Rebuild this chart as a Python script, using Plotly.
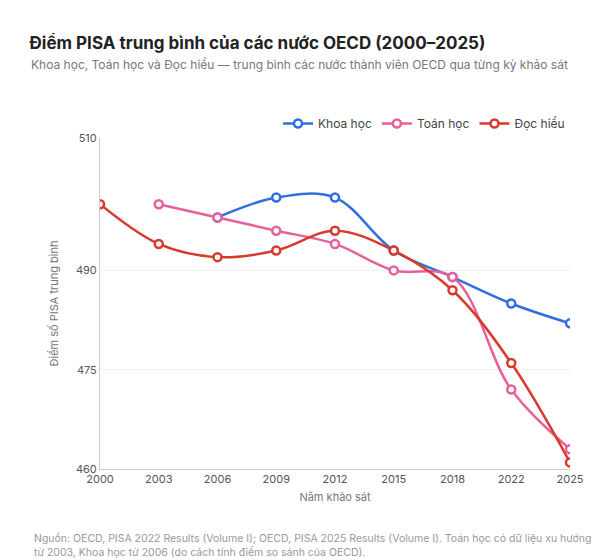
import plotly.graph_objects as go

years = ["2000", "2003", "2006", "2009", "2012", "2015", "2018", "2022", "2025"]
khoa_hoc = [None, None, 498, 501, 501, 493, 489, 485, 482]
toan_hoc = [None, 500, 498, 496, 494, 490, 489, 472, 463]
doc_hieu = [500, 494, 492, 493, 496, 493, 487, 476, 461]

series = [
    ("Khoa học", khoa_hoc, "#2f6fe0"),
    ("Toán học", toan_hoc, "#e8609a"),
    ("Đọc hiểu", doc_hieu, "#d83a2e"),
]

fig = go.Figure()
for name, vals, color in series:
    fig.add_trace(go.Scatter(
        x=years, y=vals, name=name, mode="lines+markers",
        line=dict(color=color, width=2.5, shape="spline", smoothing=1.0),
        marker=dict(size=8, color="white", line=dict(color=color, width=2.5)),
    ))

fig.update_layout(
    width=616, height=560,
    paper_bgcolor="white", plot_bgcolor="white",
    font=dict(family="Inter, Noto Sans, sans-serif", color="#555"),
    margin=dict(t=130, b=99, l=92, r=54, autoexpand=False),
    title=dict(
        text="<b>Điểm PISA trung bình của các nước OECD (2000–2025)</b>",
        x=0.035, xanchor="left", y=0.948, yanchor="top",
        font=dict(size=17, color="#222"),
    ),
    legend=dict(orientation="h", x=1, xanchor="right", y=1.0, yanchor="bottom",
                font=dict(size=12, color="#444"), itemwidth=30),
    xaxis=dict(title=dict(text="Năm khảo sát", font=dict(size=11, color="#777"), standoff=8),
               showgrid=False, showline=True, linecolor="#ccc", ticks="",
               tickfont=dict(size=11, color="#555"), range=[0, 8], automargin=False),
    yaxis=dict(title=dict(text="Điểm số PISA trung bình", font=dict(size=11, color="#777")),
               range=[460, 510], tickvals=[460, 475, 490, 510],
               showgrid=True, gridcolor="#eee", showline=True, linecolor="#ccc",
               zeroline=False, tickfont=dict(size=11, color="#555"), automargin=False),
)

fig.add_annotation(
    text="Khoa học, Toán học và Đọc hiểu — trung bình các nước thành viên OECD qua từng kỳ khảo sát",
    xref="paper", yref="paper", x=-0.151, y=1.223, xanchor="left", yanchor="middle",
    showarrow=False, font=dict(size=12, color="#777"),
)

fig.add_annotation(
    text="Nguồn: OECD, PISA 2022 Results (Volume I); OECD, PISA 2025 Results (Volume I). Toán học có dữ liệu xu hướng<br>từ 2003, Khoa học từ 2006 (do cách tính điểm so sánh của OECD).",
    xref="paper", yref="paper", x=-0.145, y=-0.185, xanchor="left", yanchor="top",
    showarrow=False, align="left", font=dict(size=10.5, color="#999"),
)

fig.write_html("out.html")
